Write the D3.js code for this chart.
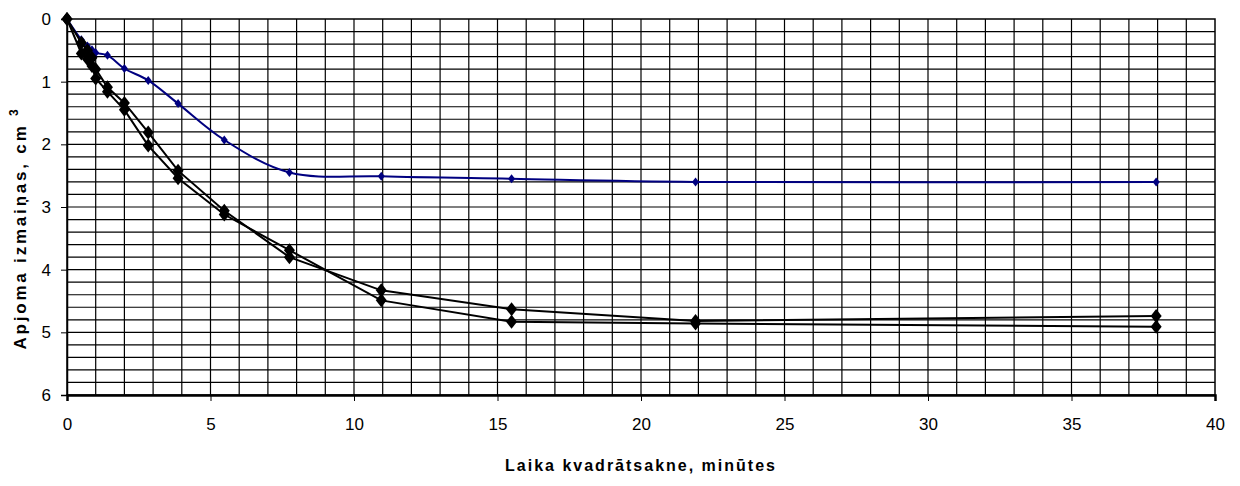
<!DOCTYPE html>
<html lang="lv">

<head>
    <meta charset="UTF-8">
    <title>Apjoma izmaiņas</title>

    <style>
        body {
            margin: 0;
            background: #fff;
        }

        svg text {
            font-family: Arial, "Liberation Sans", sans-serif;
        }
    </style>

</head>

<body>

    <svg id="chart" width="1240" height="486"></svg>

    <script src="https://d3js.org/d3.v7.min.js"></script>

    <script>

        // laika kvadratsakne (x) - same for every series
        var times = [0, 0.5, 0.71, 0.87, 1, 1.41, 2, 2.83, 3.87, 5.48, 7.75, 10.95, 15.49, 21.9, 37.95];

        // apjoma izmainas, cm3
        var blueSeries = [0, 0.33, 0.43, 0.49, 0.54, 0.58, 0.79, 0.98, 1.35, 1.93, 2.45, 2.51, 2.55, 2.6, 2.6];
        var blackSeriesA = [0, 0.38, 0.5, 0.62, 0.8, 1.09, 1.34, 1.81, 2.42, 3.06, 3.8, 4.33, 4.63, 4.82, 4.74];
        var blackSeriesB = [0, 0.55, 0.64, 0.75, 0.95, 1.16, 1.45, 2.02, 2.54, 3.12, 3.69, 4.49, 4.83, 4.86, 4.91];

        var xTicks = [0, 5, 10, 15, 20, 25, 30, 35, 40];
        var yTicks = [0, 1, 2, 3, 4, 5, 6];

        var svg = d3.select("#chart"),
            margin = { top: 19, right: 25, bottom: 91, left: 67 },
            width = 1240 - margin.left - margin.right,
            height = 486 - margin.top - margin.bottom;

        var g = svg.append("g")
            .attr("transform", "translate(" + margin.left + "," + margin.top + ")");

        var x = d3.scaleLinear().domain([0, 40]).range([0, width]);
        var y = d3.scaleLinear().domain([0, 6]).range([0, height]);

        // grid - every 1 on x, every 0.2 on y
        var xGrid = d3.range(1, 40, 1);
        var yGrid = d3.range(1, 30).map(function(i) { return i * 0.2; });

        g.selectAll(".vgrid").data(xGrid).enter().append("line")
            .attr("x1", function(d) { return x(d); })
            .attr("x2", function(d) { return x(d); })
            .attr("y1", 0).attr("y2", height)
            .attr("stroke", "#000").attr("stroke-width", 1.2);

        g.selectAll(".hgrid").data(yGrid).enter().append("line")
            .attr("y1", function(d) { return y(d); })
            .attr("y2", function(d) { return y(d); })
            .attr("x1", 0).attr("x2", width)
            .attr("stroke", "#000").attr("stroke-width", 1.2);

        // plot border
        g.append("rect")
            .attr("x", 0).attr("y", 0)
            .attr("width", width).attr("height", height)
            .attr("fill", "none").attr("stroke", "#000").attr("stroke-width", 1.5);

        // axes
        var xAxis = g.append("g")
            .attr("transform", "translate(0," + height + ")")
            .call(d3.axisBottom(x).tickValues(xTicks).tickSize(6).tickPadding(17).tickFormat(d3.format("d")));

        var yAxis = g.append("g")
            .call(d3.axisLeft(y).tickValues(yTicks).tickSize(6).tickPadding(10).tickFormat(d3.format("d")));

        [xAxis, yAxis].forEach(function(a) {
            a.select(".domain").attr("stroke", "#000").attr("stroke-width", 2.5);
            a.selectAll(".tick line").attr("stroke", "#000");
            a.selectAll(".tick text")
                .attr("fill", "#000")
                .style("font-size", "17px")
                .style("font-family", "Arial, 'Liberation Sans', sans-serif");
        });
        yAxis.select(".domain").attr("stroke-width", 1.5);

        // lines
        var line = d3.line()
            .x(function(d) { return x(d[0]); })
            .y(function(d) { return y(d[1]); });

        var smooth = d3.line()
            .curve(d3.curveCatmullRom.alpha(0.5))
            .x(function(d) { return x(d[0]); })
            .y(function(d) { return y(d[1]); });

        function pairs(values) {
            return times.map(function(t, i) { return [t, values[i]]; });
        }

        function diamond(w, h) {
            return "M0," + (-h) + "L" + w + ",0L0," + h + "L" + (-w) + ",0Z";
        }

        function drawSeries(values, color, path, w, h, lw) {
            var pts = pairs(values);
            g.append("path")
                .attr("d", path(pts))
                .attr("fill", "none")
                .attr("stroke", color)
                .attr("stroke-width", lw);

            g.selectAll(null).data(pts).enter().append("path")
                .attr("transform", function(d) { return "translate(" + x(d[0]) + "," + y(d[1]) + ")"; })
                .attr("d", diamond(w, h))
                .attr("fill", color);
        }

        drawSeries(blueSeries, "#000080", smooth, 3.5, 4.5, 2);
        drawSeries(blackSeriesB, "#000", line, 5.5, 7, 2);
        drawSeries(blackSeriesA, "#000", line, 5.5, 7, 2);

        // axis titles
        svg.append("text")
            .attr("x", margin.left + width / 2)
            .attr("y", 471)
            .attr("text-anchor", "middle")
            .style("font-size", "16px")
            .style("font-weight", "bold")
            .style("letter-spacing", "2px")
            .text("Laika kvadrātsakne, minūtes");

        var yt = svg.append("text")
            .attr("transform", "translate(26,228) rotate(-90)")
            .attr("text-anchor", "middle")
            .style("font-size", "17px")
            .style("font-weight", "bold")
            .style("letter-spacing", "2.8px");
        yt.append("tspan").text("Apjoma izmaiņas, cm ");
        yt.append("tspan")
            .attr("dy", -8)
            .style("font-size", "12px")
            .text("3");

    </script>

</body>

</html>
